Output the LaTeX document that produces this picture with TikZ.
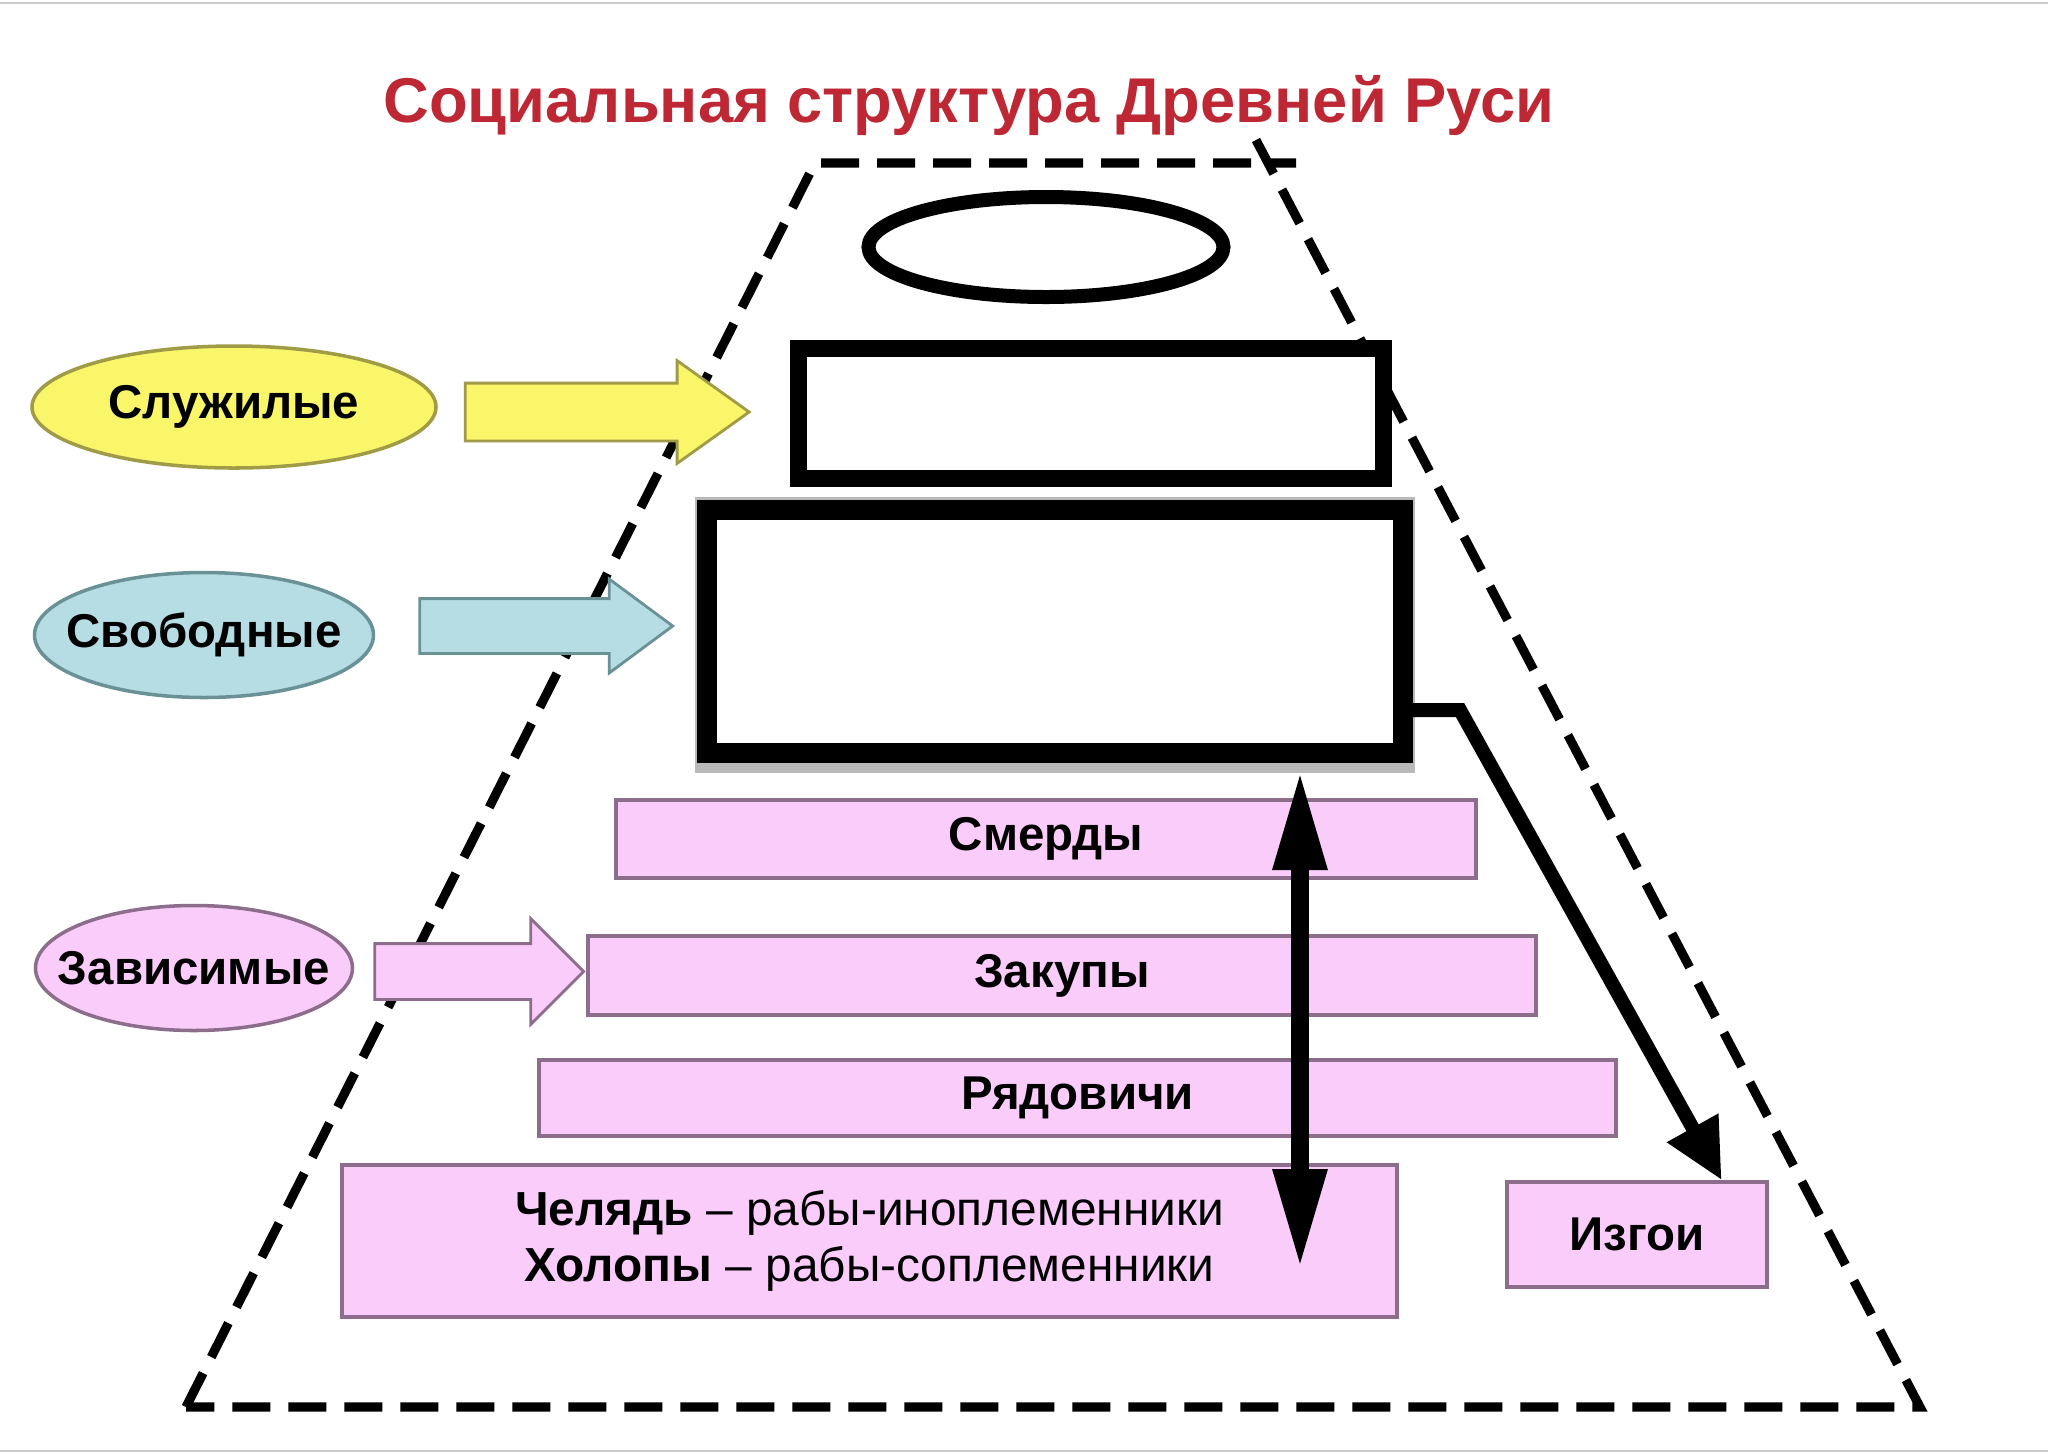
\documentclass[tikz,border=0pt]{standalone}
\usepackage{fontspec}
\setmainfont{Liberation Sans}
\usetikzlibrary{positioning,shapes.geometric,shapes.arrows,arrows.meta,calc}

\definecolor{titlered}{RGB}{190,40,52}
\definecolor{pinkfill}{RGB}{249,204,250}
\definecolor{pinkline}{RGB}{140,110,140}
\definecolor{yellowfill}{RGB}{250,246,105}
\definecolor{yellowline}{RGB}{160,155,70}
\definecolor{bluefill}{RGB}{183,221,228}
\definecolor{blueline}{RGB}{105,145,150}

\tikzset{
	frame/.style={line width=2.6pt,dash pattern=on 0.38cm off 0.18cm},
	group/.style={ellipse,draw,line width=1pt,inner sep=0pt,font=\fontsize{13.5}{16}\selectfont\bfseries},
	layer/.style={rectangle,draw=pinkline,fill=pinkfill,line width=1pt,inner sep=0pt,font=\fontsize{13.5}{16}\selectfont\bfseries},
	blank/.style={rectangle,draw,line width=0.17cm,fill=white,inner sep=0pt},
	blockarr/.style={single arrow,draw,line width=0.8pt,inner xsep=0pt},
}

\begin{document}
\begin{tikzpicture}
	\useasboundingbox (0,0) rectangle (20.48,-14.54);
	\draw[gray!40,line width=0.6pt] (0,-0.03) -- (20.48,-0.03);
	\draw[gray!40,line width=0.6pt] (0,-14.51) -- (20.48,-14.51);

	\node[font=\fontsize{18}{22}\selectfont\bfseries,text=titlered] (title) at (9.69,-1.06) {Социальная структура Древней Руси};

	\coordinate (tl) at (8.15,-1.63);
	\coordinate (tr) at (12.96,-1.63);
	\coordinate (rs) at (12.56,-1.40);
	\coordinate (bl) at (1.86,-14.07);
	\coordinate (br) at (19.20,-14.07);
	\draw[frame] (bl) -- (tl) -- (tr);
	\draw[frame] (rs) -- (br) -- (bl);

	\node[ellipse,draw,line width=0.14cm,minimum width=3.55cm,minimum height=1.0cm] (top) at (10.46,-2.47) {};
	\node[blank,minimum width=5.85cm,minimum height=1.30cm] (box1) at (10.905,-4.13) {};
	\fill[gray!55] (6.95,-4.97) rectangle (14.15,-7.73);
	\node[blank,line width=0.2cm,minimum width=6.96cm,minimum height=2.43cm] (box2) at (10.55,-6.315) {};

	\node[layer,minimum width=8.60cm,minimum height=0.78cm] (smerdy) at (10.46,-8.39) {Смерды};
	\node[layer,minimum width=9.48cm,minimum height=0.79cm] (zakupy) at (10.62,-9.755) {Закупы};
	\node[layer,minimum width=10.77cm,minimum height=0.76cm] (ryadovichi) at (10.775,-10.98) {Рядовичи};
	\node[layer,minimum width=10.55cm,minimum height=1.52cm,align=center,font=\fontsize{13.6}{16}\selectfont] (chelyad) at (8.695,-12.41) {\raisebox{-0.08cm}{\textbf{Челядь} – рабы-иноплеменники}\\\raisebox{-0.08cm}{\textbf{Холопы} – рабы-соплеменники}};
	\node[layer,minimum width=2.60cm,minimum height=1.05cm] (izgoi) at (16.37,-12.345) {Изгои};

	\node[group,fill=yellowfill,draw=yellowline,minimum width=4.04cm,minimum height=1.22cm] (sluzh) at (2.34,-4.07) {\makebox[0pt]{Служилые}};
	\node[group,fill=bluefill,draw=blueline,minimum width=3.39cm,minimum height=1.25cm] (svob) at (2.04,-6.35) {\makebox[0pt]{Свободные}};
	\node[group,fill=pinkfill,draw=pinkline,minimum width=3.17cm,minimum height=1.25cm] (zavis) at (1.94,-9.68) {\makebox[0pt]{Зависимые}};

	\node[blockarr,fill=yellowfill,draw=yellowline,minimum height=2.84cm,inner ysep=0.275cm,single arrow head extend=0.225cm,single arrow tip angle=71] (arr1) [right=0.26cm of sluzh,yshift=-0.05cm] {};
	\node[blockarr,fill=bluefill,draw=blueline,minimum height=2.53cm,inner ysep=0.26cm,single arrow head extend=0.195cm,single arrow tip angle=73] (arr2) [right=0.43cm of svob,yshift=0.09cm] {};
	\node[blockarr,fill=pinkfill,draw=pinkline,minimum height=2.09cm,inner ysep=0.265cm,single arrow head extend=0.25cm,single arrow tip angle=90] (arr3) [right=0.19cm of zavis,yshift=-0.035cm] {};

	\coordinate (dn) at (13.0,-12.69);
	\draw[line width=0.18cm,{Triangle[length=1.0cm,width=0.5cm]}-{Triangle[length=1.0cm,width=0.5cm]},shorten <=0.07cm] (box2.south -| dn) -- (dn);
	\coordinate (bend) at (14.60,-7.10);
	\draw[line width=0.14cm,-{Triangle[length=0.6cm,width=0.55cm]}] (box2.east |- bend) -- (bend) -- ($(izgoi.north east)+(-0.47,0)$);
\end{tikzpicture}
\end{document}
